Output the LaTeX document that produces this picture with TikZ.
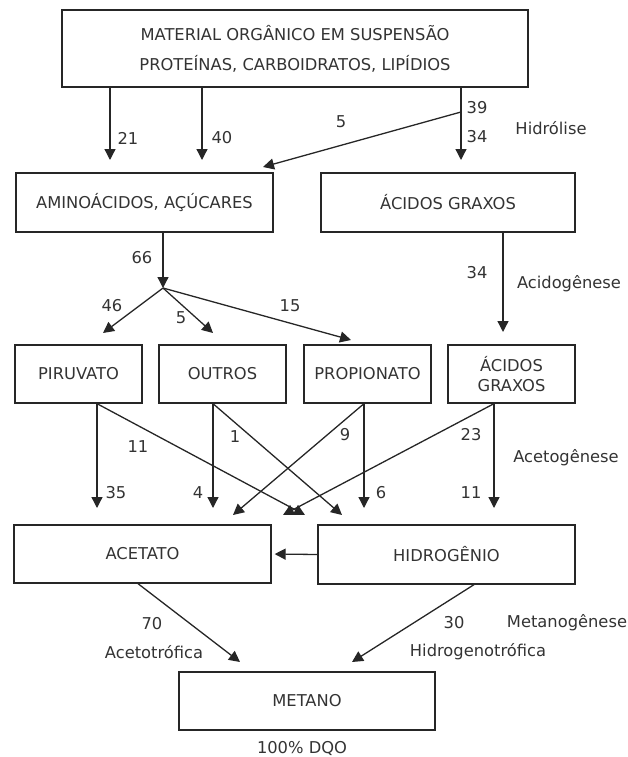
\documentclass[tikz,border=0pt]{standalone}
\usepackage{fontspec}
\setmainfont{DejaVu Sans}
\usetikzlibrary{arrows.meta}
\newcommand\diagfont{\fontsize{16.3}{19.5}\selectfont}
\begin{document}
\begin{tikzpicture}[x=1pt,y=-1pt,
  box/.style={draw=black!85, line width=1.3pt, inner sep=0pt, align=center,
              font=\diagfont, text=black!80},
  arr/.style={draw=black!85, line width=1.3pt, -{Triangle[length=11pt,width=11pt]}},
  lab/.style={inner sep=0pt, font=\diagfont, text=black!80}]
\useasboundingbox (0,0) rectangle (628,757);

% boxes
\node[box, minimum width=466pt, minimum height=77pt] (top) at (295,48.5)
  {MATERIAL ORGÂNICO EM SUSPENSÃO\\[10.5pt]PROTEÍNAS, CARBOIDRATOS, LIPÍDIOS};
\node[box, minimum width=257pt, minimum height=59pt] (amino) at (144.5,202.5) {AMINOÁCIDOS, AÇÚCARES};
\node[box, minimum width=254pt, minimum height=59pt] (ag1) at (448,202.5) {ÁCIDOS GRAXOS};
\node[box, minimum width=127pt, minimum height=58pt] (piru) at (78.5,374) {PIRUVATO};
\node[box, minimum width=127pt, minimum height=58pt] (outros) at (222.5,374) {OUTROS};
\node[box, minimum width=127pt, minimum height=58pt] (prop) at (367.5,374) {PROPIONATO};
\node[box, minimum width=127pt, minimum height=58pt] (ag2) at (511.5,374) {ÁCIDOS\\GRAXOS};
\node[box, minimum width=257pt, minimum height=58pt] (acetato) at (142.5,554) {ACETATO};
\node[box, minimum width=257pt, minimum height=59pt] (hidro) at (446.5,554.5) {HIDROGÊNIO};
\node[box, minimum width=256pt, minimum height=58pt] (metano) at (307,701) {METANO};

% arrow tips and branch points
\coordinate (t21) at (110,160);
\coordinate (t40) at (202,160);
\coordinate (t34a) at (461,160);
\coordinate (split) at (461,112);
\coordinate (t5a) at (263,167);
\coordinate (br) at (163,288);
\coordinate (t46) at (103,333);
\coordinate (t5b) at (213,333);
\coordinate (t15) at (351,340);
\coordinate (t34b) at (503,332);
\coordinate (t35) at (97,508);
\coordinate (t11a) at (305,515);
\coordinate (t4) at (213,508);
\coordinate (t1) at (342,515);
\coordinate (t9) at (233,515);
\coordinate (t6) at (364,508);
\coordinate (t23) at (283,515);
\coordinate (t11b) at (494,508);
\coordinate (t70) at (240,662);
\coordinate (t30) at (352,662);

% hydrolysis
\draw[arr] (top.south -| t21) -- (t21);
\draw[arr] (top.south -| t40) -- (t40);
\draw[arr] (top.south -| t34a) -- (t34a);
\draw[arr] (split) -- (t5a);
% acidogenesis
\draw[arr] (amino.south -| br) -- (br);
\draw[arr] (br) -- (t46);
\draw[arr] (br) -- (t5b);
\draw[arr] (br) -- (t15);
\draw[arr] (ag1.south -| t34b) -- (t34b);
% acetogenesis
\draw[arr] (piru.south -| t35) -- (t35);
\draw[arr] (piru.south -| t35) -- (t11a);
\draw[arr] (outros.south -| t4) -- (t4);
\draw[arr] (outros.south -| t4) -- (t1);
\draw[arr] (prop.south -| t6) -- (t9);
\draw[arr] (prop.south -| t6) -- (t6);
\draw[arr] (ag2.south -| t11b) -- (t23);
\draw[arr] (ag2.south -| t11b) -- (t11b);
\draw[arr, shorten >=3pt] (hidro.west) -- (acetato.east);
% methanogenesis
\draw[arr] ([xshift=-4.5pt]acetato.south) -- (t70);
\draw[arr] ([xshift=27.5pt]hidro.south) -- (t30);

% labels
\node[lab] (l21) at (128,138) {21};
\node[lab] (l40) at (222,138) {40};
\node[lab] (l39) at (477,108) {39};
\node[lab] (l34a) at (477,137) {34};
\node[lab] (l5a) at (341,122) {5};
\node[lab] (hidrolise) at (551,128) {Hidrólise};
\node[lab] (l66) at (142,258) {66};
\node[lab] (l34b) at (477,273) {34};
\node[lab] (acidog) at (569,284) {Acidogênese};
\node[lab] (l46) at (112,306) {46};
\node[lab] (l5b) at (181,318) {5};
\node[lab] (l15) at (290,306) {15};
\node[lab] (l11a) at (138,447) {11};
\node[lab] (l1) at (235,437) {1};
\node[lab] (l9) at (345,435) {9};
\node[lab] (l23) at (471,435) {23};
\node[lab] (acetog) at (566,458) {Acetogênese};
\node[lab] (l35) at (116,493) {35};
\node[lab] (l4) at (198,493) {4};
\node[lab] (l6) at (381,493) {6};
\node[lab] (l11b) at (471,493) {11};
\node[lab] (l70) at (152,624) {70};
\node[lab] (acetot) at (154,652) {Acetotrófica};
\node[lab] (l30) at (454,623) {30};
\node[lab] (hidrot) at (478,652) {Hidrogenotrófica};
\node[lab] (metanog) at (567,623) {Metanogênese};
\node[lab] (dqo) at (302,748) {100\% DQO};
\end{tikzpicture}
\end{document}
